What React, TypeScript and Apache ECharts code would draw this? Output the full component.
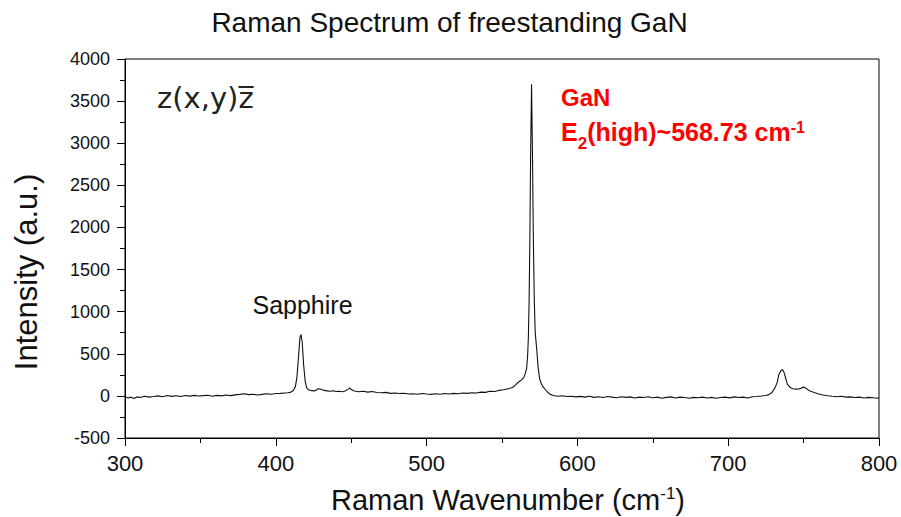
import React, { useEffect, useRef } from "react";
import * as echarts from "echarts";

const TITLE = "Raman Spectrum of freestanding GaN";
const X_LABEL_MAIN = "Raman Wavenumber (cm";
const X_LABEL_SUP = "-1";
const Y_LABEL = "Intensity (a.u.)";
const GEOMETRY_LABEL = "z(x,y)z\u0305";
const SAPPHIRE_LABEL = "Sapphire";
const GAN_LABEL = "GaN";
const E2_LABEL_PARTS = ["E", "2", "(high)~568.73 cm", "-1"];

const X_MIN = 300;
const X_MAX = 800;
const X_STEP = 100;
const Y_MIN = -500;
const Y_MAX = 4000;
const Y_STEP = 500;

const wavenumber = [
  300, 302, 304, 306, 308, 310, 313, 316, 319, 322, 325, 328, 331, 334, 337, 340, 343, 346, 349, 352,
  355, 358, 361, 364, 367, 370, 373, 376, 379, 382, 385, 388, 391, 394, 397, 400, 403, 406, 408, 410,
  411.5, 413, 414, 415, 416, 416.7, 417.5, 418.5, 419.5, 420.5, 422, 424, 426, 428, 430, 432, 434, 436, 438, 440,
  442, 444, 446, 448, 449, 450, 452, 455, 458, 461, 464, 467, 470, 473, 476, 479, 482, 485, 488, 491,
  494, 497, 500, 503, 506, 509, 512, 515, 518, 521, 524, 527, 530, 533, 536, 539, 542, 545, 548, 551,
  554, 557, 559, 561, 563, 564.5, 565.5, 566.3, 567, 567.5, 568, 568.5, 569, 569.6, 570.2, 570.8, 571.4, 572, 573, 574,
  575, 576, 577, 579, 580.5, 582, 584, 587, 590, 593, 596, 599, 602, 605, 608, 611, 614, 617, 620, 623,
  626, 629, 632, 635, 638, 641, 644, 647, 650, 653, 656, 659, 662, 665, 668, 671, 674, 677, 680, 683,
  686, 689, 692, 695, 698, 701, 704, 707, 710, 713, 716, 719, 722, 725, 727, 729, 731, 732.5, 733.6, 735,
  736, 737, 737.8, 739.2, 741, 743, 745, 747, 749, 750.3, 752, 754, 757, 760, 763, 766, 769, 772, 775, 778,
  781, 784, 787, 790, 793, 796, 799, 800,
];

const intensity = [
  -10, -25, -15, -30, -12, -20, -5, -15, -8, 0, -10, 5, -6, 2, -8, 4, -3, 6, -2, 3,
  8, -4, 6, 0, 10, 3, 12, 18, 25, 15, 20, 10, 18, 25, 20, 28, 30, 35, 38, 45,
  60, 110, 220, 450, 690, 729, 640, 360, 170, 95, 70, 62, 60, 85, 78, 65, 60, 55, 62, 52,
  55, 50, 58, 80, 95, 75, 58, 50, 55, 45, 52, 40, 38, 42, 30, 35, 28, 32, 22, 25,
  20, 28, 22, 18, 25, 20, 28, 22, 30, 25, 35, 30, 38, 35, 45, 42, 55, 52, 65, 72,
  85, 100, 130, 165, 190, 220, 270, 320, 480, 700, 1150, 1900, 2900, 3700, 2880, 1850, 1150, 760, 560, 330,
  200, 150, 112, 70, 40, 18, 5, -5, 2, -8, -5, -12, -6, -15, -5, -18, -10, -20, -8, -15,
  -22, -10, -18, -12, -25, -15, -20, -10, -22, -15, -28, -18, -12, -25, -15, -20, -28, -18, -22, -15,
  -25, -18, -28, -20, -15, -24, -12, -20, -15, -25, -10, -8, -2, 5, 15, 40, 95, 160, 255, 300,
  314, 280, 230, 140, 100, 85, 80, 82, 98, 104, 85, 60, 40, 22, 10, 2, -5, -10, -5, -15,
  -12, -20, -15, -25, -18, -22, -28, -20,
];

const SANS = '"Liberation Sans", Arial, sans-serif';

export default function App() {
  const ref = useRef<HTMLDivElement>(null);

  useEffect(() => {
    if (!ref.current) return;
    const chart = echarts.init(ref.current, null, { renderer: "svg" });
    const data = wavenumber.map((w, i) => [w, intensity[i]]);

    chart.setOption({
      animation: false,
      backgroundColor: "#ffffff",
      grid: {
        left: 125,
        right: 22,
        top: 59,
        bottom: 79,
        show: true,
        borderColor: "#000",
        borderWidth: 1,
        backgroundColor: "transparent",
      },
      xAxis: {
        type: "value",
        min: X_MIN,
        max: X_MAX,
        interval: X_STEP,
        axisLine: { show: true, onZero: false, lineStyle: { color: "#000", width: 1 } },
        axisTick: { show: true, inside: false, length: 8, lineStyle: { color: "#000" } },
        minorTick: { show: true, splitNumber: 2, length: 5, lineStyle: { color: "#000" } },
        splitLine: { show: false },
        axisLabel: {
          fontSize: 22,
          fontFamily: SANS,
          color: "#111",
          margin: 14,
          formatter: (v: number) => String(v),
        },
      },
      yAxis: {
        type: "value",
        min: Y_MIN,
        max: Y_MAX,
        interval: Y_STEP,
        axisLine: { show: true, onZero: false, lineStyle: { color: "#000", width: 1 } },
        axisTick: { show: true, inside: false, length: 8, lineStyle: { color: "#000" } },
        minorTick: { show: true, splitNumber: 2, length: 5, lineStyle: { color: "#000" } },
        splitLine: { show: false },
        axisLabel: {
          fontSize: 18,
          fontFamily: SANS,
          color: "#111",
          margin: 15,
          formatter: (v: number) => String(v),
        },
      },
      series: [
        {
          type: "line",
          data,
          showSymbol: false,
          symbol: "none",
          lineStyle: { color: "#111", width: 1.1 },
          silent: true,
        },
      ],
      graphic: [
        {
          type: "text",
          x: 449.5,
          y: 22,
          style: {
            text: TITLE,
            fontSize: 28,
            fontFamily: SANS,
            fill: "#111",
            align: "center",
            verticalAlign: "middle",
          },
        },
        {
          type: "text",
          x: 26,
          y: 272,
          rotation: Math.PI / 2,
          style: {
            text: Y_LABEL,
            fontSize: 31,
            fontFamily: SANS,
            fill: "#111",
            align: "center",
            verticalAlign: "middle",
          },
        },
        {
          type: "text",
          x: 508,
          y: 485,
          style: {
            text: `{n|${X_LABEL_MAIN}}{s|${X_LABEL_SUP}}{n|)}`,
            align: "center",
            verticalAlign: "top",
            rich: {
              n: { fontSize: 29, fontFamily: SANS, fill: "#111", lineHeight: 30, verticalAlign: "top" },
              s: { fontSize: 17, fontFamily: SANS, fill: "#111", lineHeight: 10, verticalAlign: "top" },
            },
          },
        },
        {
          type: "text",
          x: 157,
          y: 98,
          style: {
            text: GEOMETRY_LABEL,
            fontSize: 29,
            fontFamily: '"DejaVu Sans", sans-serif',
            fill: "#222",
            align: "left",
            verticalAlign: "middle",
          },
        },
        {
          type: "text",
          x: 302.5,
          y: 305,
          style: {
            text: SAPPHIRE_LABEL,
            fontSize: 25,
            fontFamily: SANS,
            fill: "#111",
            align: "center",
            verticalAlign: "middle",
          },
        },
        {
          type: "text",
          x: 561,
          y: 97,
          style: {
            text: GAN_LABEL,
            fontSize: 24,
            fontWeight: "bold",
            fontFamily: SANS,
            fill: "#ff0000",
            align: "left",
            verticalAlign: "middle",
          },
        },
        {
          type: "text",
          x: 561,
          y: 119,
          style: {
            text: `{b|${E2_LABEL_PARTS[0]}}{sub|${E2_LABEL_PARTS[1]}}{b|${E2_LABEL_PARTS[2]}}{sup|${E2_LABEL_PARTS[3]}}`,
            align: "left",
            verticalAlign: "top",
            rich: {
              b: { fontSize: 25, fontWeight: "bold", fontFamily: SANS, fill: "#ff0000", lineHeight: 28, verticalAlign: "top" },
              sub: { fontSize: 17, fontWeight: "bold", fontFamily: SANS, fill: "#ff0000", lineHeight: 33, verticalAlign: "bottom" },
              sup: { fontSize: 16, fontWeight: "bold", fontFamily: SANS, fill: "#ff0000", lineHeight: 10, verticalAlign: "top" },
            },
          },
        },
      ],
    });

    return () => {
      chart.dispose();
    };
  }, []);

  return (
    <div
      ref={ref}
      style={{ position: "fixed", left: 0, top: 0, width: 901, height: 517, background: "#fff" }}
    />
  );
}
